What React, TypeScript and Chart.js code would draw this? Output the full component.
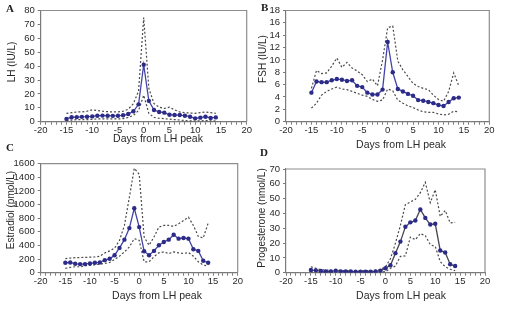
import React, { useEffect, useRef } from "react";
import { Chart, registerables } from "chart.js";

Chart.register(...registerables);

// Cycle day relative to the LH peak
const days = [-15, -14, -13, -12, -11, -10, -9, -8, -7, -6, -5, -4, -3, -2, -1, 0, 1, 2, 3, 4, 5, 6, 7, 8, 9, 10, 11, 12, 13, 14];

// A: LH (IU/L)
const lhMean = [2.0, 3.2, 3.3, 3.5, 3.6, 3.8, 4.3, 4.4, 4.3, 4.2, 4.3, 4.6, 5.5, 7.5, 12.5, 41.0, 15.0, 8.4, 7.0, 6.5, 5.0, 4.8, 4.8, 4.3, 3.6, 2.4, 2.9, 3.6, 2.7, 3.1];
const lhUpper = [6.0, 6.5, 7.0, 7.0, 7.5, 8.5, 8.0, 7.5, 7.2, 7.0, 7.0, 7.5, 9.0, 13.0, 22.0, 75.0, 24.0, 13.0, 10.5, 9.5, 10.5, 8.5, 7.0, 6.5, 6.2, 6.0, 6.5, 7.0, 6.5, 6.0];
const lhLower = [0.7, 1.2, 1.5, 1.5, 1.5, 1.7, 2.0, 2.0, 2.0, 2.0, 2.0, 2.2, 3.0, 4.5, 8.0, 19.0, 6.0, 3.0, 2.5, 2.2, 1.8, 1.5, 1.2, 0.8, 0.6, 0.5, 0.6, 0.8, 0.6, 0.5];

// B: FSH (IU/L)
const fshMean = [4.7, 6.5, 6.4, 6.4, 6.7, 6.9, 6.8, 6.6, 6.7, 5.8, 5.6, 4.7, 4.4, 4.4, 5.2, 12.9, 8.0, 5.3, 4.9, 4.5, 4.2, 3.5, 3.4, 3.2, 3.0, 2.7, 2.55, 3.2, 3.8, 3.9];
const fshUpper = [5.4, 8.3, 7.8, 7.9, 9.0, 10.3, 8.8, 9.6, 8.7, 8.2, 7.6, 6.5, 6.9, 5.8, 10.0, 15.2, 15.5, 9.8, 8.4, 7.3, 6.2, 5.7, 5.4, 5.2, 4.3, 3.6, 3.3, 4.9, 7.9, 5.8];
const fshLower = [2.2, 3.0, 4.3, 4.9, 5.3, 5.6, 5.3, 5.2, 4.9, 4.6, 4.3, 4.1, 3.6, 3.3, 3.5, 5.3, 5.0, 3.5, 3.0, 2.55, 2.3, 1.9, 1.6, 1.5, 1.5, 1.25, 1.1, 1.2, 1.7, 1.6];

// C: Estradiol (pmol/L)
const e2Mean = [145, 150, 131, 126, 126, 136, 145, 150, 184, 204, 257, 364, 485, 655, 946, 669, 315, 257, 320, 403, 451, 485, 558, 500, 509, 500, 344, 320, 175, 145];
const e2Upper = [208, 215, 220, 223, 225, 228, 232, 242, 290, 320, 360, 475, 694, 1106, 1533, 1445, 524, 403, 524, 670, 694, 694, 679, 718, 766, 815, 694, 533, 509, 728];
const e2Lower = [63, 78, 87, 87, 102, 107, 116, 126, 136, 150, 194, 243, 305, 378, 500, 475, 160, 160, 233, 291, 305, 281, 305, 291, 281, 296, 243, 160, 112, 97];

// D: Progesterone (nmol/L)
const p4Mean = [1.8, 1.6, 1.1, 0.9, 0.9, 1.4, 0.9, 0.9, 0.9, 0.7, 0.7, 0.7, 0.7, 0.9, 1.4, 3.0, 5.0, 13.2, 21.0, 31.0, 34.0, 35.2, 42.7, 37.0, 32.5, 33.0, 15.0, 13.6, 5.7, 4.5];
const p4Upper = [4.0, 3.0, 2.0, 1.8, 1.6, 1.8, 1.5, 1.5, 1.5, 1.4, 1.4, 1.4, 1.4, 1.6, 2.3, 4.0, 9.5, 20.0, 32.0, 46.0, 47.7, 49.5, 54.0, 61.0, 47.3, 56.0, 38.0, 42.0, 33.6, 34.0];
const p4Lower = [0.5, 0.5, 0.4, 0.4, 0.4, 0.4, 0.4, 0.3, 0.3, 0.3, 0.3, 0.3, 0.3, 0.3, 0.4, 0.7, 3.0, 4.5, 11.0, 11.4, 24.0, 22.3, 26.4, 25.0, 18.9, 17.7, 7.5, 4.0, 2.3, 1.4];

const xTickLabels = ["-20", "-15", "-10", "-5", "0", "5", "10", "15", "20"];
const xTitle = "Days from LH peak";

type Box = { left: number; top: number; width: number; height: number };
type Plot = { l: number; t: number; r: number; b: number };
type Pt = { x: number; y: number };

type PanelSpec = {
  letter: string;
  letterPos: { left: number; top: number };
  canvas: Box;
  plot: Plot;
  yTitle: string;
  yTitleAt: Pt;
  xTitleAt: Pt;
  yMax: number;
  yStep: number;
  mean: number[];
  upper: number[];
  lower: number[];
  lineColor: string;
};

const panels: PanelSpec[] = [
  {
    letter: "A",
    letterPos: { left: 6, top: 3 },
    canvas: { left: 0, top: 0, width: 252, height: 155 },
    plot: { l: 40.7, t: 10.5, r: 246.7, b: 121.7 },
    yTitle: "LH (IU/L)",
    yTitleAt: { x: 12.7, y: 62 },
    xTitleAt: { x: 158, y: 139.5 },
    yMax: 80,
    yStep: 10,
    mean: lhMean,
    upper: lhUpper,
    lower: lhLower,
    lineColor: "#4444a8",
  },
  {
    letter: "B",
    letterPos: { left: 261, top: 1.5 },
    canvas: { left: 252, top: 0, width: 253, height: 155 },
    plot: { l: 286, t: 10.5, r: 489.3, b: 121.7 },
    yTitle: "FSH (IU/L)",
    yTitleAt: { x: 263.3, y: 59 },
    xTitleAt: { x: 401, y: 145 },
    yMax: 18,
    yStep: 2,
    mean: fshMean,
    upper: fshUpper,
    lower: fshLower,
    lineColor: "#4444a8",
  },
  {
    letter: "C",
    letterPos: { left: 6, top: 141.5 },
    canvas: { left: 0, top: 155, width: 252, height: 155 },
    plot: { l: 40.7, t: 162.5, r: 237.7, b: 272.7 },
    yTitle: "Estradiol (pmol/L)",
    yTitleAt: { x: 11.7, y: 210 },
    xTitleAt: { x: 157, y: 296 },
    yMax: 1600,
    yStep: 200,
    mean: e2Mean,
    upper: e2Upper,
    lower: e2Lower,
    lineColor: "#4444a8",
  },
  {
    letter: "D",
    letterPos: { left: 260, top: 147 },
    canvas: { left: 252, top: 155, width: 253, height: 155 },
    plot: { l: 286, t: 169, r: 485, b: 272.7 },
    yTitle: "Progesterone (nmol/L)",
    yTitleAt: { x: 262.3, y: 218 },
    xTitleAt: { x: 401, y: 296 },
    yMax: 70,
    yStep: 10,
    mean: p4Mean,
    upper: p4Upper,
    lower: p4Lower,
    lineColor: "#45454f",
  },
];

const FONT = "'Liberation Sans', Arial, sans-serif";
const TEXT = "#2a2a2a";
const AXIS = "#7a7a7a";
const FRAME = "#8e8e8e";
const MARKER = "#2c2c88";
const BAND = "#4a4a4a";

// Thin grey frame around the plotting area (top and right edges)
const framePlugin = {
  id: "plotFrame",
  afterDraw(chart: Chart) {
    const { ctx, chartArea } = chart;
    ctx.save();
    ctx.strokeStyle = FRAME;
    ctx.lineWidth = 1.2;
    ctx.beginPath();
    ctx.moveTo(chartArea.left, chartArea.top);
    ctx.lineTo(chartArea.right, chartArea.top);
    ctx.lineTo(chartArea.right, chartArea.bottom);
    ctx.stroke();
    ctx.restore();
  },
};

// Axis titles placed at fixed spots relative to the canvas
function makeTitlePlugin(spec: PanelSpec) {
  return {
    id: "axisTitles",
    afterDraw(chart: Chart) {
      const { ctx } = chart;
      const ox = spec.canvas.left;
      const oy = spec.canvas.top;
      ctx.save();
      ctx.fillStyle = TEXT;
      ctx.textAlign = "center";
      ctx.textBaseline = "middle";
      ctx.font = `10.5px ${FONT}`;
      ctx.fillText(xTitle, spec.xTitleAt.x - ox, spec.xTitleAt.y - oy);
      ctx.translate(spec.yTitleAt.x - ox, spec.yTitleAt.y - oy);
      ctx.rotate(-Math.PI / 2);
      ctx.font = `10px ${FONT}`;
      ctx.fillText(spec.yTitle, 0, 0);
      ctx.restore();
    },
  };
}

function Panel({ spec }: { spec: PanelSpec }) {
  const ref = useRef<HTMLCanvasElement | null>(null);

  useEffect(() => {
    if (!ref.current) return;
    const { canvas, plot } = spec;
    const padTop = plot.t - canvas.top;
    const padRight = canvas.left + canvas.width - plot.r;
    const yWidth = plot.l - canvas.left;
    const xHeight = canvas.top + canvas.height - plot.b;

    const toPoints = (vals: number[]) => days.map((d, i) => ({ x: d, y: vals[i] }));

    const band = {
      borderColor: BAND,
      borderWidth: 1.2,
      borderDash: [2, 2],
      pointRadius: 0,
      fill: false,
      tension: 0,
    };

    const chart = new Chart(ref.current, {
      type: "line",
      data: {
        datasets: [
          {
            data: toPoints(spec.mean),
            borderColor: spec.lineColor,
            borderWidth: 1.3,
            pointRadius: 2.2,
            pointBackgroundColor: MARKER,
            pointBorderColor: MARKER,
            pointBorderWidth: 0,
            fill: false,
            tension: 0,
          },
          { data: toPoints(spec.upper), ...band },
          { data: toPoints(spec.lower), ...band },
        ],
      },
      options: {
        animation: false,
        responsive: false,
        devicePixelRatio: 1,
        layout: { padding: { top: padTop, right: padRight, left: 0, bottom: 0 } },
        plugins: { legend: { display: false }, tooltip: { enabled: false } },
        scales: {
          x: {
            type: "linear",
            min: -20,
            max: 20,
            afterFit: (s: any) => {
              s.height = xHeight;
            },
            ticks: {
              stepSize: 1,
              autoSkip: false,
              maxRotation: 0,
              padding: 0,
              color: TEXT,
              font: { family: FONT, size: 9.5 },
              callback: (v: any) => {
                const s = String(v);
                return xTickLabels.includes(s) ? s : "";
              },
            },
            grid: { drawOnChartArea: false, drawTicks: true, tickLength: 3, color: AXIS, lineWidth: 1 },
            border: { display: true, color: AXIS, width: 1.2 },
            title: { display: false },
          },
          y: {
            type: "linear",
            min: 0,
            max: spec.yMax,
            afterFit: (s: any) => {
              s.width = yWidth;
            },
            ticks: {
              stepSize: spec.yStep,
              autoSkip: false,
              padding: 3,
              color: TEXT,
              font: { family: FONT, size: 9.5 },
              callback: (v: any) => String(v),
            },
            grid: { drawOnChartArea: false, drawTicks: true, tickLength: 3, color: AXIS, lineWidth: 1 },
            border: { display: true, color: AXIS, width: 1.2 },
            title: { display: false },
          },
        },
      },
      plugins: [framePlugin, makeTitlePlugin(spec)],
    });

    return () => chart.destroy();
  }, [spec]);

  const { canvas } = spec;
  return (
    <>
      <canvas
        ref={ref}
        width={canvas.width}
        height={canvas.height}
        style={{
          position: "absolute",
          left: canvas.left,
          top: canvas.top,
          width: canvas.width,
          height: canvas.height,
        }}
      />
      <div
        style={{
          position: "absolute",
          left: spec.letterPos.left,
          top: spec.letterPos.top,
          fontFamily: "'Liberation Serif', 'Times New Roman', serif",
          fontWeight: "bold",
          fontSize: 11,
          lineHeight: "11px",
          color: "#222",
        }}
      >
        {spec.letter}
      </div>
    </>
  );
}

export default function App() {
  return (
    <div
      style={{
        position: "fixed",
        left: 0,
        top: 0,
        width: 505,
        height: 310,
        background: "#ffffff",
        overflow: "hidden",
      }}
    >
      {panels.map((p) => (
        <Panel key={p.letter} spec={p} />
      ))}
    </div>
  );
}
